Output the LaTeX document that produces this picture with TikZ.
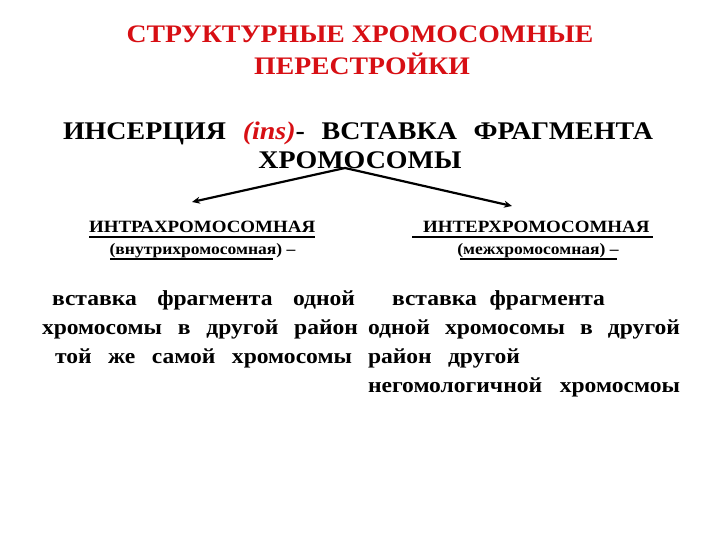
\documentclass[tikz,border=0pt]{standalone}
\usepackage{fontspec}
\setmainfont{Liberation Serif}
\usetikzlibrary{arrows.meta,calc}
\definecolor{tred}{RGB}{215,15,20}
\newcommand{\sx}[1]{\scalebox{1.1}[1]{#1}}
\begin{document}
\begin{tikzpicture}[x=1bp,y=-1bp,
  txt/.style={inner sep=0pt,outer sep=0pt,font=\bfseries},
  ttl/.style={txt,text=tred,font=\fontsize{25.3}{30}\selectfont\bfseries},
  big/.style={txt,font=\fontsize{25.5}{30}\selectfont\bfseries},
  hd/.style={txt,font=\fontsize{17.3}{20}\selectfont\bfseries},
  sub/.style={txt,font=\fontsize{16}{19}\selectfont\bfseries},
  body/.style={txt,font=\fontsize{21.5}{25}\selectfont\bfseries},
  uline/.style={line width=1.3bp},
  arr/.style={line width=2.2bp,-{Stealth[length=8bp,width=7bp]}}]
\useasboundingbox (0,0) rectangle (720,540);
% title
\node[ttl,anchor=base] (t1) at (360,43) {\sx{СТРУКТУРНЫЕ ХРОМОСОМНЫЕ}};
\node[ttl,anchor=base] (t2) at (362,75) {\sx{ПЕРЕСТРОЙКИ}};
% main definition
\node[big,anchor=base west] (d1) at (63,140) {\sx{\makebox[536.4bp][s]{ИНСЕРЦИЯ \textcolor{tred}{\itshape (ins)}- ВСТАВКА ФРАГМЕНТА}}};
\node[big,anchor=base] (d2) at (360,169) {\sx{ХРОМОСОМЫ}};
% arrows
\coordinate (apex) at (345,168);
\coordinate (lt) at (192,202);
\coordinate (rt) at (512,206);
\draw[arr] (apex) -- (lt);
\draw[arr] (apex) -- (rt);
% left heading
\node[hd,anchor=base west] (h1) at (89,233) {\sx{\makebox[205.5bp][s]{ИНТРАХРОМОСОМНАЯ}}};
\draw[uline] (89,237) -- (315,237);
\node[sub,anchor=base] (s1) at (202.5,255) {\sx{(внутрихромосомная) –}};
\draw[uline] (110,259) -- (273,259);
% right heading
\node[hd,anchor=base west] (h2) at (423,233) {\sx{\makebox[209bp][s]{ИНТЕРХРОМОСОМНАЯ}}};
\draw[uline] (412,237) -- (653,237);
\node[sub,anchor=base] (s2) at (538,255) {\sx{(межхромосомная) –}};
\draw[uline] (460,259) -- (617,259);
% left body
\node[body,anchor=base west] (l1) at (52,305) {\sx{\makebox[275.5bp][s]{вставка  фрагмента  одной}}};
\node[body,anchor=base west] (l2) at (42,334) {\sx{\makebox[287.3bp][s]{хромосомы  в  другой  район}}};
\node[body,anchor=base west] (l3) at (55,363) {\sx{\makebox[270bp][s]{той  же  самой  хромосомы}}};
% right body
\node[body,anchor=base west] (r1) at (392,305) {\sx{\makebox[193.6bp][s]{вставка  фрагмента}}};
\node[body,anchor=base west] (r2) at (368,334) {\sx{\makebox[283.6bp][s]{одной  хромосомы  в  другой}}};
\node[body,anchor=base west] (r3) at (368,363) {\sx{\makebox[138.2bp][s]{район  другой}}};
\node[body,anchor=base west] (r4) at (368,392) {\sx{\makebox[283.6bp][s]{негомологичной  хромосмоы}}};
\end{tikzpicture}
\end{document}
